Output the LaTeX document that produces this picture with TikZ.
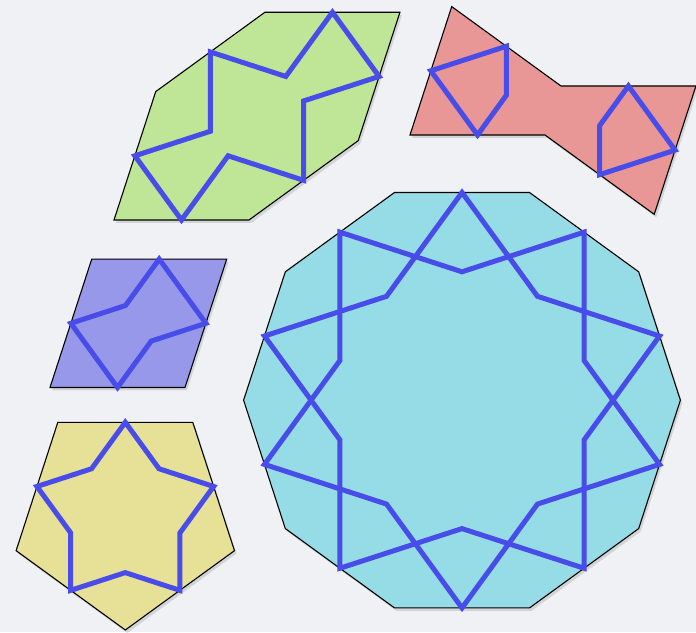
\documentclass[tikz,border=0pt]{standalone}
\usetikzlibrary{calc,shadows}
\definecolor{bgc}{RGB}{240,241,244}
\definecolor{tgreen}{RGB}{190,230,150}
\definecolor{tred}{RGB}{232,150,150}
\definecolor{tpurple}{RGB}{152,152,234}
\definecolor{tyellow}{RGB}{230,225,150}
\definecolor{tcyan}{RGB}{150,220,230}
\definecolor{strapblue}{RGB}{72,76,232}
\begin{document}
\begin{tikzpicture}[x=1pt,y=1pt,
  tile/.style={draw=black, line width=1.1pt, line join=miter,
    drop shadow={opacity=0.25, shadow xshift=2pt, shadow yshift=-3pt}},
  strap/.style={draw=strapblue, line width=5pt, line join=miter, miter limit=6}]
\fill[bgc] (0,0) rectangle (696,632);
\useasboundingbox (0,0) rectangle (696,632);

% ---------- green elongated hexagon ----------
\coordinate (g1) at (114,412);
\coordinate (g2) at ($(g1)+(0:135)$);
\coordinate (g3) at ($(g2)+(36:135)$);
\coordinate (g4) at ($(g3)+(72:135)$);
\coordinate (g5) at ($(g4)+(180:135)$);
\coordinate (g6) at ($(g5)+(216:135)$);
\path[tile, fill=tgreen] (g1)--(g2)--(g3)--(g4)--(g5)--(g6)--cycle;
\coordinate (gm12) at ($(g1)!0.5!(g2)$);
\coordinate (gm23) at ($(g2)!0.5!(g3)$);
\coordinate (gm34) at ($(g3)!0.5!(g4)$);
\coordinate (gm45) at ($(g4)!0.5!(g5)$);
\coordinate (gm56) at ($(g5)!0.5!(g6)$);
\coordinate (gm61) at ($(g6)!0.5!(g1)$);
\coordinate (gk1) at ($(gm12)+(54:79.35)$);
\coordinate (gk2) at ($(gm23)+(90:79.35)$);
\coordinate (gk3) at ($(gm45)+(234:79.35)$);
\coordinate (gk4) at ($(gm56)+(270:79.35)$);
\draw[strap] (gm61)--(gm12)--(gk1)--(gm23)--(gk2)--(gm34)--(gm45)--(gk3)--(gm56)--(gk4)--cycle;

% ---------- red bowtie ----------
\coordinate (q1) at (410,497);
\coordinate (q2) at ($(q1)+(72:135)$);
\coordinate (q3) at ($(q2)+(-36:135)$);
\coordinate (q4) at ($(q3)+(0:135)$);
\coordinate (q5) at ($(q4)+(252:135)$);
\coordinate (q6) at ($(q5)+(144:135)$);
\path[tile, fill=tred] (q1)--(q2)--(q3)--(q4)--(q5)--(q6)--cycle;
\coordinate (rm12) at ($(q1)!0.5!(q2)$);
\coordinate (rm23) at ($(q2)!0.5!(q3)$);
\coordinate (rm34) at ($(q3)!0.5!(q4)$);
\coordinate (rm45) at ($(q4)!0.5!(q5)$);
\coordinate (rm56) at ($(q5)!0.5!(q6)$);
\coordinate (rm61) at ($(q6)!0.5!(q1)$);
\coordinate (rk1) at ($(rm61)+(54:49.05)$);
\coordinate (rk2) at ($(rm34)+(234:49.05)$);
\draw[strap] (rm12)--(rm23)--(rk1)--(rm61)--cycle;
\draw[strap] (rm34)--(rm45)--(rm56)--(rk2)--cycle;

% ---------- purple rhombus ----------
\coordinate (a1) at (50,244.5);
\coordinate (a2) at ($(a1)+(0:135)$);
\coordinate (a3) at ($(a2)+(72:135)$);
\coordinate (a4) at ($(a1)+(72:135)$);
\path[tile, fill=tpurple] (a1)--(a2)--(a3)--(a4)--cycle;
\coordinate (pm12) at ($(a1)!0.5!(a2)$);
\coordinate (pm23) at ($(a2)!0.5!(a3)$);
\coordinate (pm34) at ($(a3)!0.5!(a4)$);
\coordinate (pm41) at ($(a4)!0.5!(a1)$);
\coordinate (pka) at ($(pm34)+(234:57.37)$);
\coordinate (pkb) at ($(pm12)+(54:57.37)$);
\draw[strap] (pm34)--(pka)--(pm41)--(pm12)--(pkb)--(pm23)--cycle;

% ---------- yellow pentagon ----------
\begin{scope}[shift={(125.3,116.8)}]
\path[tile, fill=tyellow] (-90:114.8)--(-18:114.8)--(54:114.8)--(126:114.8)--(198:114.8)--cycle;
\draw[strap] (90:92.9)--(126:57.4)--(162:92.9)--(198:57.4)--(234:92.9)--(270:57.4)
  --(306:92.9)--(342:57.4)--(18:92.9)--(54:57.4)--cycle;
\end{scope}

% ---------- cyan decagon ----------
\begin{scope}[shift={(462,231.8)}]
\path[tile, fill=tcyan] (0:218.4)--(36:218.4)--(72:218.4)--(108:218.4)--(144:218.4)
  --(180:218.4)--(216:218.4)--(252:218.4)--(288:218.4)--(324:218.4)--cycle;
\draw[strap] (90:207.7)--(126:128.4)--(162:207.7)--(198:128.4)--(234:207.7)--(270:128.4)
  --(306:207.7)--(342:128.4)--(18:207.7)--(54:128.4)--cycle;
\draw[strap] (54:207.7)--(90:128.4)--(126:207.7)--(162:128.4)--(198:207.7)--(234:128.4)
  --(270:207.7)--(306:128.4)--(342:207.7)--(18:128.4)--cycle;
\end{scope}
\end{tikzpicture}
\end{document}
